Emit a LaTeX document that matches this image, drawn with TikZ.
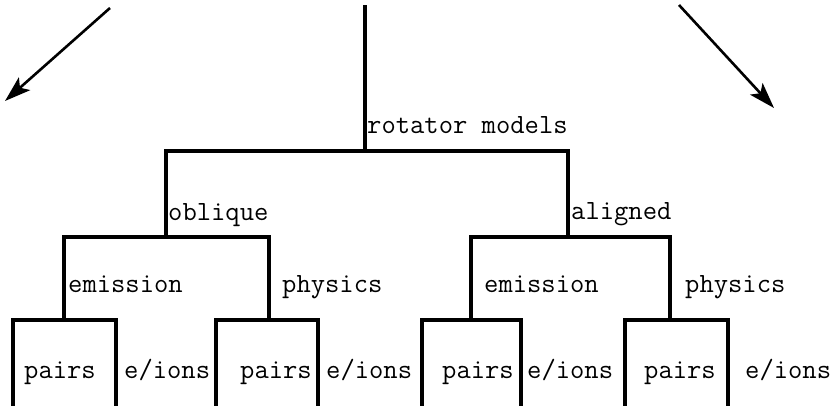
\documentclass[tikz,border=0pt]{standalone}
\usepackage{fontspec}
\usetikzlibrary{arrows.meta}
\begin{document}
\begin{tikzpicture}[x=1pt,y=-1pt,
  tree/.style={line width=3.2pt,line join=miter,line cap=rect},
  arr/.style={line width=2.6pt,-{Stealth[length=26pt,width=17pt,inset=6pt]}},
  lbl/.style={anchor=base west,inner sep=0pt,font=\ttfamily\fontsize{27.8}{28}\selectfont}]
\useasboundingbox (0,0) rectangle (832,406);
% coordinates
\coordinate (top) at (365,7);
\coordinate (r) at (365,151);
\coordinate (rl) at (166,151);
\coordinate (rr) at (568,151);
\coordinate (ob) at (166,237);
\coordinate (al) at (568,237);
\coordinate (obl) at (64,237);
\coordinate (obr) at (269,237);
\coordinate (all) at (471,237);
\coordinate (alr) at (670,237);
\coordinate (e1) at (64,320);
\coordinate (p1) at (269,320);
\coordinate (e2) at (471,320);
\coordinate (p2) at (670,320);
\coordinate (e1l) at (13,320);  \coordinate (e1r) at (116,320);
\coordinate (p1l) at (216,320); \coordinate (p1r) at (318,320);
\coordinate (e2l) at (422,320); \coordinate (e2r) at (521,320);
\coordinate (p2l) at (625,320); \coordinate (p2r) at (728,320);
\coordinate (e1lb) at (13,406);  \coordinate (e1rb) at (116,406);
\coordinate (p1lb) at (216,406); \coordinate (p1rb) at (318,406);
\coordinate (e2lb) at (422,406); \coordinate (e2rb) at (521,406);
\coordinate (p2lb) at (625,406); \coordinate (p2rb) at (728,406);
\coordinate (la1) at (110,8);  \coordinate (la2) at (5,101);
\coordinate (ra1) at (679,5);  \coordinate (ra2) at (774,108);
% tree
\draw[tree] (top) -- (r);
\draw[tree] (ob) -- (rl) -- (rr) -- (al);
\draw[tree] (e1) -- (obl) -- (obr) -- (p1);
\draw[tree] (e2) -- (all) -- (alr) -- (p2);
\draw[tree] (e1lb) -- (e1l) -- (e1r) -- (e1rb);
\draw[tree] (p1lb) -- (p1l) -- (p1r) -- (p1rb);
\draw[tree] (e2lb) -- (e2l) -- (e2r) -- (e2rb);
\draw[tree] (p2lb) -- (p2l) -- (p2r) -- (p2rb);
% arrows
\draw[arr] (la1) -- (la2);
\draw[arr] (ra1) -- (ra2);
% labels
\node[lbl] (lrot) at (367,134) {rotator models};
\node[lbl] (lobl) at (168,220) {oblique};
\node[lbl] (lali) at (571,219) {aligned};
\node[lbl] (lem1) at (68,292) {emission};
\node[lbl] (lph1) at (282,292) {physics};
\node[lbl] (lem2) at (484,292) {emission};
\node[lbl] (lph2) at (685,292) {physics};
\node[lbl] (pa1) at (24,378) {pairs};
\node[lbl] (ei1) at (124,378) {e/ions};
\node[lbl] (pa2) at (240,378) {pairs};
\node[lbl] (ei2) at (326,378) {e/ions};
\node[lbl] (pa3) at (442,378) {pairs};
\node[lbl] (ei3) at (527,378) {e/ions};
\node[lbl] (pa4) at (644,378) {pairs};
\node[lbl] (ei4) at (745,378) {e/ions};
\end{tikzpicture}
\end{document}
